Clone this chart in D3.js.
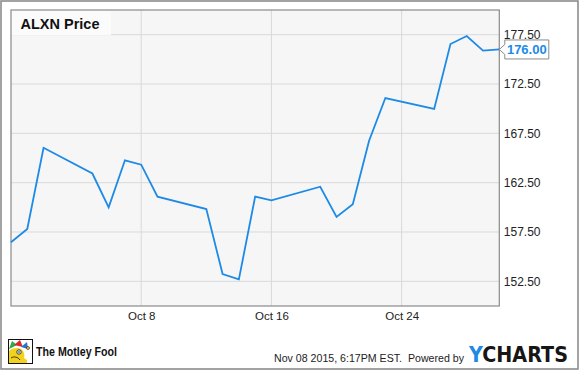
<!DOCTYPE html>
<html>
<head>
<meta charset="utf-8">
<script src="https://cdn.jsdelivr.net/npm/d3@7"></script>
<style>
html,body{margin:0;padding:0;background:#fff;}
svg{display:block;font-family:"Liberation Sans",Arial,sans-serif;}
</style>
</head>
<body>
<svg id="chart" width="580" height="371"></svg>
<script>
const dates = ["2015-09-30","2015-10-01","2015-10-02","2015-10-05","2015-10-06","2015-10-07","2015-10-08","2015-10-09","2015-10-12","2015-10-13","2015-10-14","2015-10-15","2015-10-16","2015-10-19","2015-10-20","2015-10-21","2015-10-22","2015-10-23","2015-10-26","2015-10-27","2015-10-28","2015-10-29","2015-10-30"];
const prices = [156.46,157.80,166.04,163.43,160.00,164.77,164.32,161.08,159.83,153.24,152.70,161.08,160.71,162.09,159.02,160.31,166.75,171.08,169.97,176.55,177.36,175.88,176.00];
const yTicks = [152.5,157.5,162.5,167.5,172.5,177.5];
const xTicks = ["2015-10-08","2015-10-16","2015-10-24"];
const title = "ALXN Price";
const lastLabel = "176.00";

const parse = d3.timeParse("%Y-%m-%d");
const data = dates.map((d,i)=>({date:parse(d), value:prices[i]}));

const svg = d3.select("#chart");
const L = 11, T = 10, R = 499.3, B = 306;

const x = d3.scaleTime().domain([parse("2015-09-30"), parse("2015-10-30")]).range([L, R]);
const y = d3.scaleLinear().domain([150, 180]).range([B, T]);

// outer border
svg.append("rect").attr("x",1).attr("y",1).attr("width",577).attr("height",368)
  .attr("fill","#fff").attr("stroke","#8c8c8c").attr("stroke-width",1.6);

// plot background
svg.append("rect").attr("x",L).attr("y",T).attr("width",R-L).attr("height",B-T).attr("fill","#f6f6f6");

// grid
const grid = svg.append("g");
grid.selectAll("line.h").data(yTicks).join("line")
  .attr("x1",L).attr("x2",R).attr("y1",d=>y(d)).attr("y2",d=>y(d))
  .attr("stroke","#d9d9d9").attr("stroke-width",1);
grid.selectAll("line.v").data(xTicks).join("line")
  .attr("x1",d=>x(parse(d))).attr("x2",d=>x(parse(d))).attr("y1",T).attr("y2",B)
  .attr("stroke","#d9d9d9").attr("stroke-width",1);

// title box
svg.append("rect").attr("x",L).attr("y",T).attr("width",100).attr("height",25).attr("fill","#fbfbfb");
svg.append("text").attr("x",20.5).attr("y",29).text(title)
  .attr("font-size","14.5px").attr("font-weight","bold").attr("fill","#111");

// plot border
svg.append("rect").attr("x",L).attr("y",T).attr("width",R-L).attr("height",B-T)
  .attr("fill","none").attr("stroke","#8a8a8a").attr("stroke-width",1.2);

// line
const line = d3.line().x(d=>x(d.date)).y(d=>y(d.value));
svg.append("path").datum(data).attr("d",line).attr("fill","none")
  .attr("stroke","#1c8ae6").attr("stroke-width",1.8).attr("stroke-linejoin","miter");

// y axis
const yAxis = d3.axisRight(y).tickValues(yTicks).tickFormat(d3.format(".2f")).tickSize(0).tickPadding(4.5);
const gy = svg.append("g").attr("transform",`translate(${R},0)`).call(yAxis);
gy.select(".domain").remove();
gy.selectAll("text").attr("font-size","12px").attr("fill","#222").attr("font-family","Liberation Sans, Arial, sans-serif");

// x axis
const xAxis = d3.axisBottom(x).tickValues(xTicks.map(parse)).tickFormat(d3.timeFormat("%b %-d")).tickSize(0).tickPadding(6);
const gx = svg.append("g").attr("transform",`translate(0,${B})`).call(xAxis);
gx.select(".domain").remove();
gx.selectAll("text").attr("font-size","11.5px").attr("fill","#222").attr("font-family","Liberation Sans, Arial, sans-serif");

// last value label
const last = data[data.length-1];
const ly = y(last.value);
const lx = x(last.date);
const bx = lx + 5.5, bw = 44, bh = 19;
svg.append("path")
  .attr("d",`M${lx},${ly} L${bx},${ly-5} L${bx},${ly-bh/2} L${bx+bw},${ly-bh/2} L${bx+bw},${ly+bh/2} L${bx},${ly+bh/2} L${bx},${ly+5} Z`)
  .attr("fill","#fff").attr("stroke","#8a8a8a").attr("stroke-width",1);
svg.append("text").attr("x",bx+bw/2).attr("y",ly+4.8).attr("text-anchor","middle")
  .text(lastLabel).attr("font-size","13px").attr("font-weight","bold").attr("fill","#1c8ae6");

// Motley Fool logo
const logo = svg.append("g").attr("transform","translate(8,339)");
logo.append("rect").attr("x",0.5).attr("y",0.5).attr("width",24).attr("height",24).attr("fill","#fff").attr("stroke","#111").attr("stroke-width",1);
logo.append("path").attr("d","M1,24 L1,12 C4,9 9,8 13,10 C16,12 17,16 16,19 L19,21 L19,24 Z").attr("fill","#f2d21b");
logo.append("path").attr("d","M1,10 L4,2 L9,6 Z").attr("fill","#2da84a");
logo.append("path").attr("d","M6,6 L12,1 L15,8 Z").attr("fill","#d9282f");
logo.append("path").attr("d","M13,8 L19,3 L20,10 Z").attr("fill","#2a6fd1");
logo.append("circle").attr("cx",11).attr("cy",13).attr("r",2.2).attr("fill","#fff").attr("stroke","#111").attr("stroke-width",0.8);
logo.append("circle").attr("cx",11).attr("cy",13).attr("r",0.9).attr("fill","#2a6fd1");
logo.append("circle").attr("cx",20).attr("cy",9).attr("r",1.5).attr("fill","#f2d21b").attr("stroke","#111").attr("stroke-width",0.6);
logo.append("path").attr("d","M3,19 C6,17 10,18 12,21").attr("fill","none").attr("stroke","#111").attr("stroke-width",0.8);
svg.append("text").attr("x",36).attr("y",356).text("The Motley Fool")
  .attr("font-size","13.5px").attr("font-weight","bold").attr("fill","#111")
  .attr("textLength",81).attr("lengthAdjust","spacingAndGlyphs");

// footer
svg.append("text").attr("x",274).attr("y",361.5).text("Nov 08 2015, 6:17PM EST.  Powered by")
  .style("white-space","pre")
  .attr("font-size","10.8px").attr("fill","#222")
  .attr("textLength",190).attr("lengthAdjust","spacingAndGlyphs");
const yc = svg.append("text").attr("x",469).attr("y",362).attr("font-size","20.5px").attr("font-weight","bold")
  .attr("font-family","DejaVu Sans, sans-serif").attr("textLength",99).attr("lengthAdjust","spacingAndGlyphs");
yc.append("tspan").text("Y").attr("fill","#1c8ae6");
yc.append("tspan").text("CHARTS").attr("fill","#161616");
</script>
</body>
</html>
